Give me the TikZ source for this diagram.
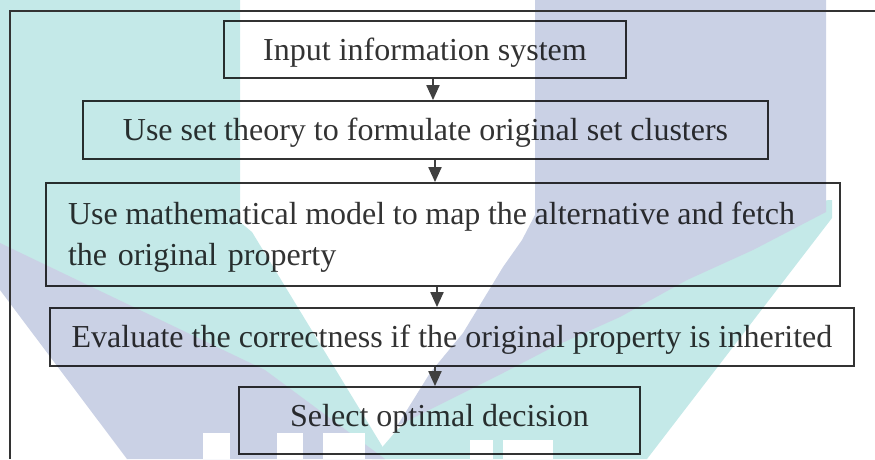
\documentclass[tikz,border=0pt]{standalone}
\usepackage{fontspec}
\setmainfont{Liberation Serif}
\usetikzlibrary{arrows.meta}
\definecolor{wmteal}{RGB}{196,233,232}
\definecolor{wmlav}{RGB}{202,209,229}
\definecolor{arrowgray}{RGB}{64,64,64}

\begin{document}
\begin{tikzpicture}[x=1pt,y=-1pt,
  stepbox/.style={draw=black, draw opacity=0.8, line width=1.8pt,
    text opacity=0.8, inner sep=0pt,
    font=\fontsize{32}{41.5}\selectfont,
    text height=21.2pt, text depth=0pt},
  flow/.style={draw=arrowgray, line width=2pt,
    -{Triangle[length=15pt,width=13pt]}},
  frameline/.style={draw=black!80, line width=1.5pt}]
\useasboundingbox (0,0) rectangle (875,459);

% background logo
\fill[wmteal] (0,0) -- (240,0) -- (240,222) -- (252,232) -- (390,459) -- (380,459)
  -- (263,378) -- (0,250) -- cycle;
\fill[wmteal] (832,200) -- (832,218) -- (647,459) -- (372,459) -- (397,430)
  -- (420,410) -- (540,215) -- cycle;
\fill[wmlav] (535,0) -- (826,0) -- (826,212) -- (753,250) -- (687,280) -- (620,317)
  -- (553,347) -- (503,373) -- (397,426) -- (430,373) -- (463,333) -- (503,267)
  -- (522,240) -- (535,215) -- cycle;
\fill[wmlav] (0,243) -- (265,370) -- (385,459) -- (127,459) -- (0,290) -- cycle;
\fill[white] (203,433) rectangle (230,459);
\fill[white] (277,433) rectangle (303,459);
\fill[white] (323,433) rectangle (365,459);
\fill[white] (470,440) rectangle (493,459);
\fill[white] (503,440) rectangle (553,459);

% outer frame
\draw[frameline] (875,11) -- (10,11) -- (10,459);

% process steps
\node[stepbox, minimum width=402pt, minimum height=57pt] (input) at (425,49.5)
  {Input information system};
\node[stepbox, minimum width=685pt, minimum height=58pt] (sets) at (425.5,130)
  {Use set theory to formulate original set clusters};
\node[stepbox, minimum width=794pt, minimum height=103pt, align=left,
  text width=750pt, inner xsep=22pt, text depth=41.5pt] (model) at (443,234.5)
  {\makebox[727pt][s]{\spaceskip=4pt plus 20pt\relax
   Use mathematical model to map the alternative and fetch}\\the original property};
\node[stepbox, minimum width=804pt, minimum height=58pt] (check) at (452,337)
  {Evaluate the correctness if the original property is inherited};
\node[stepbox, minimum width=401pt, minimum height=67pt, text depth=9pt] (decide) at (439.5,420.5)
  {Select optimal decision};

% arrows between steps
\coordinate (a1) at (433,0);
\coordinate (a2) at (435,0);
\coordinate (a3) at (437,0);
\coordinate (a4) at (435,0);
\draw[flow] (input.south -| a1) -- (sets.north -| a1);
\draw[flow] (sets.south -| a2) -- (model.north -| a2);
\draw[flow] (model.south -| a3) -- (check.north -| a3);
\draw[flow] (check.south -| a4) -- (decide.north -| a4);
\end{tikzpicture}
\end{document}
